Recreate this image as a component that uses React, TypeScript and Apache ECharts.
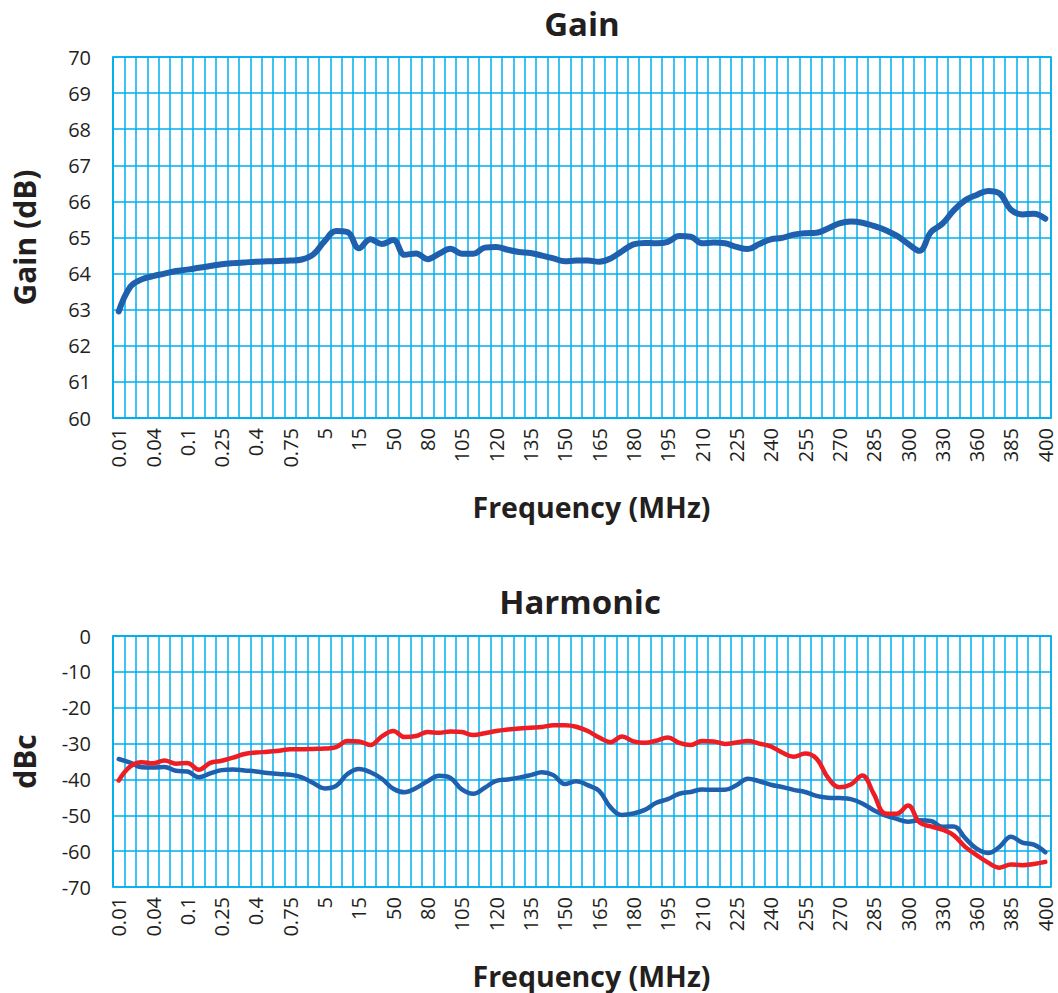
import React, { useEffect, useRef } from "react";
import * as echarts from "echarts";

const frequencies: string[] = [
  "0.01", "0.02", "0.03", "0.04", "0.05", "0.075", "0.1", "0.15", "0.2", "0.25",
  "0.3", "0.35", "0.4", "0.5", "0.6", "0.75", "1", "2", "5", "8",
  "10", "15", "20", "30", "50", "60", "70", "80", "90", "100",
  "105", "110", "115", "120", "125", "130", "135", "140", "145", "150",
  "155", "160", "165", "170", "175", "180", "185", "190", "195", "200",
  "205", "210", "215", "220", "225", "230", "235", "240", "245", "250",
  "255", "260", "265", "270", "275", "280", "285", "290", "295", "300",
  "310", "320", "330", "340", "350", "360", "370", "375", "385", "390",
  "395", "400",
];

const gainValues: number[] = [
  62.95, 63.63, 63.84, 63.93, 64.0, 64.07, 64.11, 64.16, 64.21, 64.26,
  64.29, 64.31, 64.33, 64.34, 64.35, 64.36, 64.39, 64.53, 64.9, 65.18,
  65.15, 64.7, 64.95, 64.82, 64.93, 64.52, 64.56, 64.4, 64.55, 64.69,
  64.55, 64.55, 64.72, 64.74, 64.66, 64.6, 64.57, 64.5, 64.42, 64.34,
  64.36, 64.36, 64.33, 64.42, 64.62, 64.81, 64.85, 64.84, 64.88, 65.04,
  65.02, 64.84, 64.86, 64.84, 64.74, 64.68, 64.82, 64.95, 64.99, 65.08,
  65.12, 65.13, 65.25, 65.39, 65.44, 65.41, 65.32, 65.21, 65.05, 64.83,
  64.63, 65.15, 65.38, 65.75, 66.03, 66.18, 66.29, 66.22, 65.77, 65.64,
  65.66, 65.52,
];

const harmonicBlue: number[] = [
  -34.3, -35.3, -36.6, -36.7, -36.5, -37.6, -37.8, -39.4, -38.3, -37.4,
  -37.2, -37.5, -37.8, -38.2, -38.5, -38.7, -39.4, -41.0, -42.5, -41.8,
  -38.5, -37.1, -38.0, -39.8, -42.6, -43.6, -42.4, -40.5, -39.0, -39.6,
  -42.8, -44.0, -42.3, -40.4, -40.0, -39.5, -38.8, -38.0, -38.8, -41.3,
  -40.5, -41.6, -43.2, -47.8, -49.9, -49.5, -48.5, -46.5, -45.5, -44.0,
  -43.5, -42.8, -42.9, -42.9, -41.6, -39.8, -40.5, -41.5, -42.1, -42.9,
  -43.5, -44.6, -45.1, -45.2, -45.5, -46.7, -48.6, -50.0, -51.0, -51.8,
  -51.4, -51.6, -53.2, -53.1, -56.4, -59.3, -60.5, -58.8, -56.0, -57.6,
  -58.2, -60.3,
];

const harmonicRed: number[] = [
  -40.3, -36.4, -35.2, -35.5, -34.7, -35.6, -35.4, -37.3, -35.4, -34.8,
  -33.9, -32.9, -32.5, -32.3, -32.0, -31.6, -31.6, -31.5, -31.4, -31.0,
  -29.3, -29.4, -30.4, -28.0, -26.5, -28.2, -27.9, -26.8, -27.0, -26.6,
  -26.8, -27.6, -27.1, -26.5, -26.1, -25.8, -25.6, -25.4, -24.9, -24.9,
  -25.3, -26.5, -28.3, -29.6, -28.0, -29.4, -29.8, -29.2, -28.3, -29.8,
  -30.4, -29.3, -29.4, -30.1, -29.7, -29.3, -30.0, -30.8, -32.5, -33.7,
  -32.8, -34.2, -39.5, -42.2, -41.4, -38.9, -44.0, -49.5, -49.6, -47.3,
  -52.0, -53.1, -54.0, -55.6, -58.8, -61.1, -63.2, -64.6, -63.7, -63.9,
  -63.6, -63.0,
];

const GRID_COLOR = "#00AEEF";
const TEXT_COLOR = "#231F20";
const FONT = "'Open Sans', 'Noto Sans', sans-serif";

export default function App() {
  const ref = useRef<HTMLDivElement>(null);

  useEffect(() => {
    if (!ref.current) return;
    const chart = echarts.init(ref.current, null, { renderer: "svg" });

    const xAxisBase = (gridIndex: number) => ({
      type: "category" as const,
      gridIndex,
      data: frequencies,
      boundaryGap: true,
      name: "Frequency (MHz)",
      nameLocation: "middle" as const,
      nameGap: 74,
      nameTextStyle: {
        fontFamily: FONT,
        fontSize: 28.5,
        fontWeight: "bold" as const,
        color: TEXT_COLOR,
        padding: [0, 0, 0, 19],
      },
      axisTick: { show: false },
      axisLine: { show: true, lineStyle: { color: GRID_COLOR, width: 1.5 } },
      axisLabel: {
        interval: 2,
        rotate: 90,
        margin: 10,
        fontFamily: FONT,
        fontSize: 20,
        color: TEXT_COLOR,
      },
      splitLine: {
        show: true,
        interval: 0,
        lineStyle: { color: GRID_COLOR, width: 1.5 },
      },
    });

    const yAxisBase = (
      gridIndex: number,
      name: string,
      min: number,
      max: number,
      interval: number
    ) => ({
      type: "value" as const,
      gridIndex,
      min,
      max,
      interval,
      name,
      nameLocation: "middle" as const,
      nameGap: 74,
      nameTextStyle: {
        fontFamily: FONT,
        fontSize: 30,
        fontWeight: "bold" as const,
        color: TEXT_COLOR,
      },
      axisLine: { show: true, lineStyle: { color: GRID_COLOR, width: 1.5 } },
      axisTick: { show: false },
      axisLabel: {
        margin: 22,
        fontFamily: FONT,
        fontSize: 20,
        color: TEXT_COLOR,
      },
      splitLine: { show: true, lineStyle: { color: GRID_COLOR, width: 1.5 } },
    });

    const titleStyle = {
      fontFamily: FONT,
      fontSize: 33,
      fontWeight: "bold" as const,
      color: TEXT_COLOR,
    };

    chart.setOption({
      animation: false,
      backgroundColor: "#ffffff",
      title: [
        { text: "Gain", left: 577, top: 2, textAlign: "center", textStyle: titleStyle },
        { text: "Harmonic", left: 575, top: 580, textAlign: "center", textStyle: titleStyle },
      ],
      grid: [
        {
          left: 113,
          top: 57,
          width: 938,
          height: 361,
          show: true,
          borderColor: GRID_COLOR,
          borderWidth: 1.5,
        },
        {
          left: 113,
          top: 636,
          width: 938,
          height: 251,
          show: true,
          borderColor: GRID_COLOR,
          borderWidth: 1.5,
        },
      ],
      xAxis: [xAxisBase(0), xAxisBase(1)],
      yAxis: [
        yAxisBase(0, "Gain (dB)", 60, 70, 1),
        yAxisBase(1, "dBc", -70, 0, 10),
      ],
      series: [
        {
          type: "line",
          name: "Gain",
          xAxisIndex: 0,
          yAxisIndex: 0,
          data: gainValues,
          smooth: 0.4,
          showSymbol: false,
          lineStyle: { color: "#1F60AE", width: 6, cap: "round", join: "round" },
          itemStyle: { color: "#1F60AE" },
        },
        {
          type: "line",
          name: "Harmonic 2",
          xAxisIndex: 1,
          yAxisIndex: 1,
          data: harmonicBlue,
          smooth: 0.4,
          showSymbol: false,
          lineStyle: { color: "#1F60AE", width: 4.5, cap: "round", join: "round" },
          itemStyle: { color: "#1F60AE" },
        },
        {
          type: "line",
          name: "Harmonic 3",
          xAxisIndex: 1,
          yAxisIndex: 1,
          data: harmonicRed,
          smooth: 0.4,
          showSymbol: false,
          lineStyle: { color: "#EE1D24", width: 4.5, cap: "round", join: "round" },
          itemStyle: { color: "#EE1D24" },
        },
      ],
    });

    return () => {
      chart.dispose();
    };
  }, []);

  return (
    <div
      ref={ref}
      style={{
        position: "fixed",
        left: 0,
        top: 0,
        width: 1058,
        height: 993,
        background: "#ffffff",
      }}
    />
  );
}
